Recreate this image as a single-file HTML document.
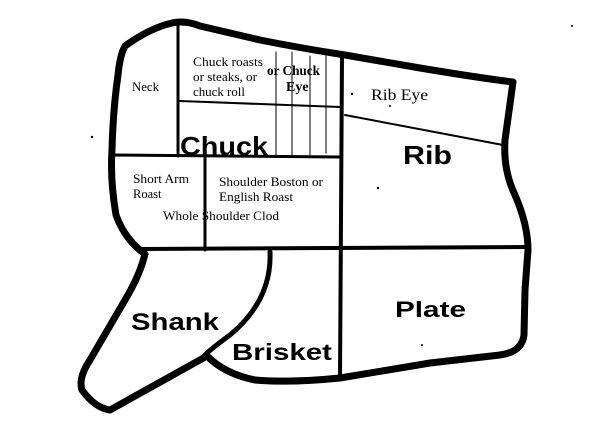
<!DOCTYPE html>
<html><head><style>body{margin:0;background:#fff}svg{display:block}</style></head><body>
<svg width="600" height="429" viewBox="0 0 600 429" xmlns="http://www.w3.org/2000/svg">
<g fill="none" stroke="#000" stroke-linejoin="round" stroke-linecap="round">
<path d="M125,46 Q150,28 172,23 Q185,20 200,26 L260,40 Q300,48 345,55 L420,68 Q480,78 513,82 L505,140 Q503,170 515,195 Q528,225 528,250 L525,290 L524,335 Q522,352 500,355 L430,363 L340,378 Q290,383 255,380 Q225,374 207,356 L110,410 Q95,408 82,390 Q78,378 90,360 L125,300 Q140,275 145,254 Q125,240 116,215 Q110,180 112,150 Q113,110 118,75 Q120,55 125,46 Z" stroke-width="7"/>
<path d="M178,25 L178,156" stroke-width="3"/>
<path d="M180,101 L340,107" stroke-width="2"/>
<path d="M276,52 L276,155 M292,52 L292,155 M310,56 L310,155 M326,56 L326,153" stroke-width="1"/>
<path d="M342,56 L340,378" stroke-width="4"/>
<path d="M114,155 L340,157" stroke-width="3"/>
<path d="M205,157 L205,250" stroke-width="3"/>
<path d="M140,249 L527,247" stroke-width="4"/>
<path d="M345,115 L503,145" stroke-width="2"/>
<path d="M270,252 Q272,300 230,335 Q212,348 205,355" stroke-width="5"/>
</g>
<g font-family="Liberation Serif, serif" fill="#000" font-size="12.5" lengthAdjust="spacingAndGlyphs">
<text x="132" y="91" textLength="27" lengthAdjust="spacingAndGlyphs">Neck</text>
<text x="193" y="66" textLength="70" lengthAdjust="spacingAndGlyphs">Chuck roasts</text>
<text x="193" y="81" textLength="64" lengthAdjust="spacingAndGlyphs">or steaks, or</text>
<text x="193" y="96" textLength="52" lengthAdjust="spacingAndGlyphs">chuck roll</text>
<text x="267" y="75" font-size="14" font-weight="bold" textLength="53" lengthAdjust="spacingAndGlyphs">or Chuck</text>
<text x="286" y="91" font-size="14" font-weight="bold">Eye</text>
<text x="371" y="100" font-size="16" textLength="57" lengthAdjust="spacingAndGlyphs">Rib Eye</text>
<text x="133" y="183" textLength="56" lengthAdjust="spacingAndGlyphs">Short Arm</text>
<text x="133" y="198">Roast</text>
<text x="219" y="186" textLength="104" lengthAdjust="spacingAndGlyphs">Shoulder Boston or</text>
<text x="219" y="201" textLength="74" lengthAdjust="spacingAndGlyphs">English Roast</text>
<text x="163" y="220" textLength="116" lengthAdjust="spacingAndGlyphs">Whole Shoulder Clod</text>
</g>
<g font-family="Liberation Sans, sans-serif" font-weight="bold" fill="#000">
<text x="180" y="155" font-size="26" textLength="88" lengthAdjust="spacingAndGlyphs">Chuck</text>
<text x="403" y="164" font-size="26" textLength="49" lengthAdjust="spacingAndGlyphs">Rib</text>
<text x="131" y="330" font-size="24" textLength="88" lengthAdjust="spacingAndGlyphs">Shank</text>
<text x="232" y="360" font-size="23" textLength="100" lengthAdjust="spacingAndGlyphs">Brisket</text>
<text x="395" y="317" font-size="22" textLength="71" lengthAdjust="spacingAndGlyphs">Plate</text>
</g>
<g fill="#000"><circle cx="92" cy="137" r="1.2"/><circle cx="352" cy="94" r="1.2"/><circle cx="378" cy="188" r="1.2"/><circle cx="390" cy="106" r="1"/><circle cx="422" cy="345" r="1"/><circle cx="572" cy="26" r="1"/></g>
</svg>
</body></html>
